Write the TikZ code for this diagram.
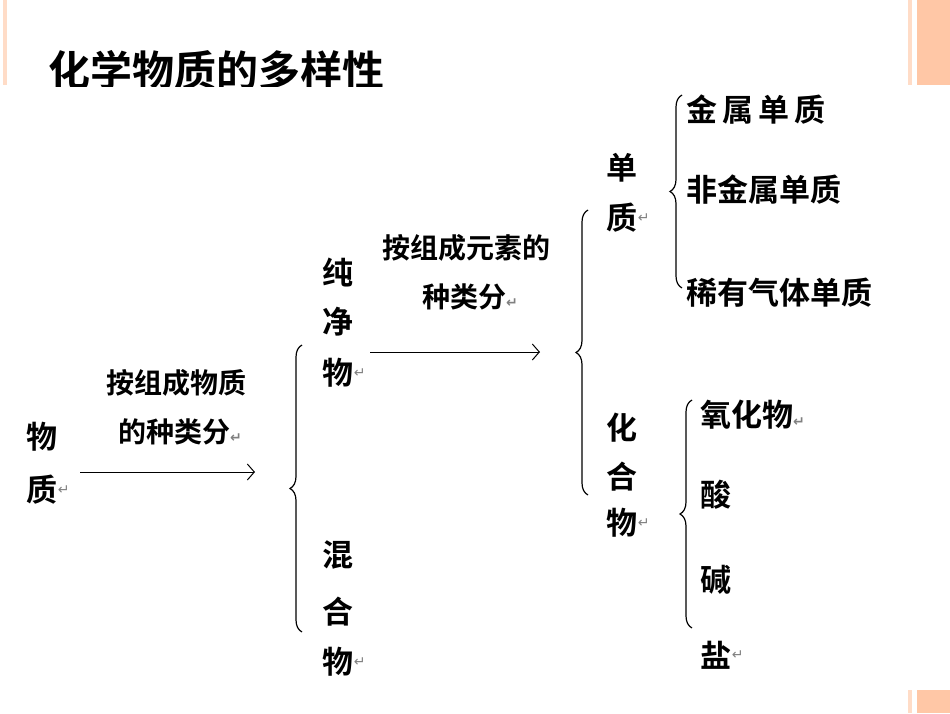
\documentclass[tikz,border=0pt]{standalone}
\usepackage{fontspec}
\newfontfamily\cjk{Noto Sans CJK SC}[BoldFont={* Bold}]
\newfontfamily\dv{DejaVu Sans}
\usetikzlibrary{arrows.meta,decorations.pathreplacing}
\newcommand{\rt}{{\dv\fontsize{14}{14}\selectfont\color{gray}↵}}
\tikzset{
 lab/.style={font=\cjk\bfseries\fontsize{31}{31}\selectfont, inner sep=0pt, anchor=west},
 mid/.style={font=\cjk\bfseries\fontsize{28}{28}\selectfont, inner sep=0pt},
 arr/.style={line width=1pt,-{Straight Barb[length=7pt,width=16pt]}},
 brc/.style={line width=1.2pt,decorate,decoration={brace,amplitude=12pt,aspect=0.5}},
}
\begin{document}
\begin{tikzpicture}[x=1pt,y=-1pt]
\useasboundingbox (0,0) rectangle (950,713);
\fill[white] (0,0) rectangle (950,713);
% decorations
\fill[red!25!orange!22] (3,0) rectangle (7,85);
\fill[red!25!orange!22] (908,0) rectangle (912,85);
\fill[red!25!orange!35] (917,0) rectangle (950,85);
\fill[red!25!orange!22] (908,690) rectangle (912,713);
\fill[red!25!orange!35] (917,690) rectangle (950,713);
\begin{scope}
\clip (0,0) rectangle (950,86);
\node[font=\cjk\bfseries\fontsize{42}{42}\selectfont,inner sep=0pt,anchor=west] (title) at (48,70) {化学物质的多样性};
\end{scope}
% root
\node[lab,anchor=center] (w1) at (42,437) {物};
\node[lab,anchor=center] (w2) at (42,490) {质};
\node[anchor=west,inner sep=0pt] at (w2.east) {\rt};
\coordinate (a1s) at (80,472); \coordinate (a1e) at (255,472);
\draw[arr] (a1s) -- (a1e);
\node[mid] (l1a) at (176,383) {按组成物质};
\node[mid] (l1b) at (180,432) {的种类分\rt};
\coordinate (b1t) at (302,345); \coordinate (b1b) at (302,632);
\draw[brc] (b1b) -- (b1t);
\node[lab,anchor=center] (c1) at (338,272) {纯};
\node[lab,anchor=center] (c2) at (338,322) {净};
\node[lab,anchor=center] (c3) at (338,373) {物};
\node[anchor=west,inner sep=0pt] at (c3.east) {\rt};
\node[lab,anchor=center] (h1) at (338,555) {混};
\node[lab,anchor=center] (h2) at (338,612) {合};
\node[lab,anchor=center] (h3) at (338,662) {物};
\node[anchor=west,inner sep=0pt] at (h3.east) {\rt};
\coordinate (a2s) at (370,352); \coordinate (a2e) at (540,352);
\draw[arr] (a2s) -- (a2e);
\node[mid] (l2a) at (466,248) {按组成元素的};
\node[mid] (l2b) at (470,297) {种类分\rt};
\coordinate (b2t) at (588,210); \coordinate (b2b) at (588,495);
\draw[brc] (b2b) -- (b2t);
\node[lab,anchor=center] (d1) at (622,168) {单};
\node[lab,anchor=center] (d2) at (622,218) {质};
\node[anchor=west,inner sep=0pt] at (d2.east) {\rt};
\coordinate (b3t) at (682,95); \coordinate (b3b) at (682,288);
\draw[brc] (b3b) -- (b3t);
\node[lab] (e1) at (686,110) {金\,属\,单\,质};
\node[lab] (e2) at (686,190) {非金属单质};
\node[lab] (e3) at (686,293) {稀有气体单质};
\node[lab,anchor=center] (f1) at (622,428) {化};
\node[lab,anchor=center] (f2) at (622,477) {合};
\node[lab,anchor=center] (f3) at (622,523) {物};
\node[anchor=west,inner sep=0pt] at (f3.east) {\rt};
\coordinate (b4t) at (692,400); \coordinate (b4b) at (692,628);
\draw[brc] (b4b) -- (b4t);
\node[lab] (g1) at (700,415) {氧化物\rt};
\node[lab,anchor=center] (g2) at (716,495) {酸};
\node[lab,anchor=center] (g3) at (716,580) {碱};
\node[lab,anchor=center] (g4) at (716,655) {盐};
\node[anchor=west,inner sep=0pt] at (g4.east) {\rt};
\end{tikzpicture}
\end{document}
